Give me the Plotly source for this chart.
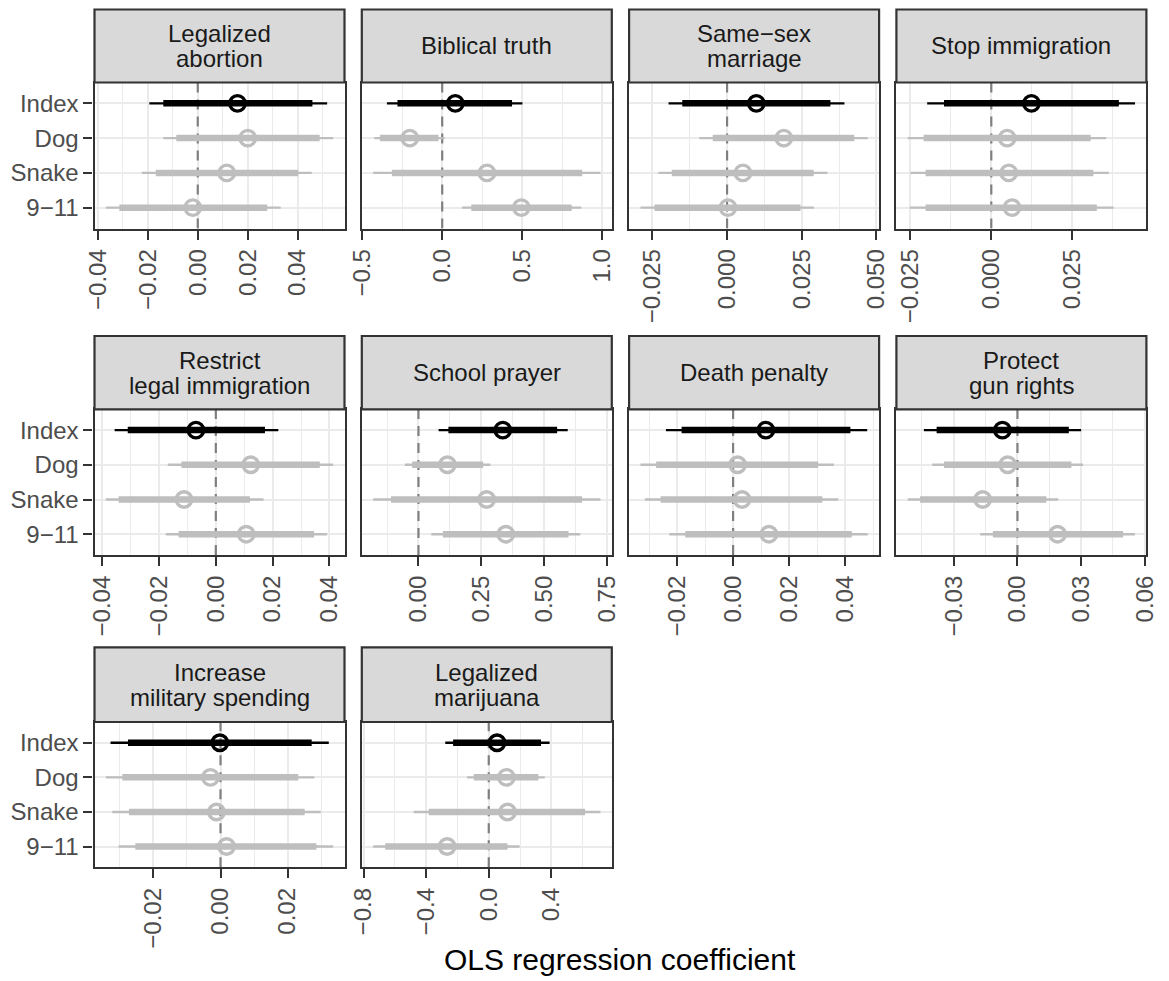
import plotly.graph_objects as go

# ---------------------------------------------------------------- data
issues = [
    "Legalized abortion", "Biblical truth", "Same−sex marriage", "Stop immigration",
    "Restrict legal immigration", "School prayer", "Death penalty", "Protect gun rights",
    "Increase military spending", "Legalized marijuana",
]
# facet strip text, one entry per line
strip_lines = [
    ["Legalized", "abortion"], ["Biblical truth"], ["Same−sex", "marriage"],
    ["Stop immigration"], ["Restrict", "legal immigration"], ["School prayer"],
    ["Death penalty"], ["Protect", "gun rights"], ["Increase", "military spending"],
    ["Legalized", "marijuana"],
]
measures = ["Index", "Dog", "Snake", "9−11"]

# point estimates (Index, Dog, Snake, 9-11) per issue
point_est = [
    [0.0159, 0.0200, 0.0116, -0.0020],
    [0.082, -0.203, 0.280, 0.495],
    [0.0098, 0.0190, 0.0053, 0.0003],
    [0.0124, 0.0049, 0.0054, 0.0064],
    [-0.0070, 0.0123, -0.0112, 0.0107],
    [0.335, 0.115, 0.271, 0.347],
    [0.0117, 0.0016, 0.0032, 0.0128],
    [-0.0071, -0.0046, -0.0164, 0.0189],
    [-0.0002, -0.0030, -0.0012, 0.0018],
    [0.053, 0.113, 0.120, -0.266],
]
# 90% interval bounds (thick segments)
ci90_lo = [
    [-0.0138, -0.0086, -0.0168, -0.0314],
    [-0.280, -0.390, -0.315, 0.182],
    [-0.0150, -0.0048, -0.0185, -0.0243],
    [-0.0146, -0.0209, -0.0203, -0.0203],
    [-0.0310, -0.0121, -0.0342, -0.0131],
    [0.119, -0.025, -0.109, 0.097],
    [-0.0184, -0.0275, -0.0259, -0.0171],
    [-0.0381, -0.0346, -0.0459, -0.0116],
    [-0.0276, -0.0293, -0.0273, -0.0254],
    [-0.228, -0.096, -0.384, -0.662],
]
ci90_hi = [
    [0.0459, 0.0488, 0.0402, 0.0278],
    [0.437, -0.023, 0.876, 0.810],
    [0.0346, 0.0426, 0.0290, 0.0246],
    [0.0394, 0.0307, 0.0315, 0.0326],
    [0.0173, 0.0366, 0.0120, 0.0346],
    [0.551, 0.257, 0.650, 0.596],
    [0.0419, 0.0304, 0.0319, 0.0424],
    [0.0242, 0.0254, 0.0136, 0.0498],
    [0.0272, 0.0232, 0.0251, 0.0286],
    [0.334, 0.317, 0.616, 0.120],
]
# 95% interval bounds (thin segments)
ci95_lo = [
    [-0.0194, -0.0138, -0.0224, -0.0368],
    [-0.346, -0.425, -0.432, 0.124],
    [-0.0196, -0.0093, -0.0230, -0.0290],
    [-0.0198, -0.0258, -0.0250, -0.0252],
    [-0.0356, -0.0169, -0.0387, -0.0176],
    [0.080, -0.054, -0.180, 0.051],
    [-0.0240, -0.0331, -0.0315, -0.0228],
    [-0.0441, -0.0402, -0.0517, -0.0176],
    [-0.0328, -0.0342, -0.0323, -0.0304],
    [-0.278, -0.139, -0.480, -0.739],
]
ci95_hi = [
    [0.0518, 0.0542, 0.0456, 0.0332],
    [0.502, 0.016, 0.990, 0.870],
    [0.0393, 0.0471, 0.0336, 0.0291],
    [0.0444, 0.0355, 0.0363, 0.0378],
    [0.0220, 0.0413, 0.0168, 0.0392],
    [0.593, 0.286, 0.723, 0.643],
    [0.0479, 0.0360, 0.0376, 0.0481],
    [0.0300, 0.0309, 0.0192, 0.0554],
    [0.0323, 0.0280, 0.0299, 0.0336],
    [0.389, 0.358, 0.714, 0.197],
]
# x-axis breaks and their labels per panel
tick_breaks = [
    [-0.04, -0.02, 0.0, 0.02, 0.04],
    [-0.5, 0.0, 0.5, 1.0],
    [-0.025, 0.0, 0.025, 0.05],
    [-0.025, 0.0, 0.025],
    [-0.04, -0.02, 0.0, 0.02, 0.04],
    [0.0, 0.25, 0.5, 0.75],
    [-0.02, 0.0, 0.02, 0.04],
    [-0.03, 0.0, 0.03, 0.06],
    [-0.02, 0.0, 0.02],
    [-0.8, -0.4, 0.0, 0.4],
]
tick_labels = [
    ["−0.04", "−0.02", "0.00", "0.02", "0.04"],
    ["−0.5", "0.0", "0.5", "1.0"],
    ["−0.025", "0.000", "0.025", "0.050"],
    ["−0.025", "0.000", "0.025"],
    ["−0.04", "−0.02", "0.00", "0.02", "0.04"],
    ["0.00", "0.25", "0.50", "0.75"],
    ["−0.02", "0.00", "0.02", "0.04"],
    ["−0.03", "0.00", "0.03", "0.06"],
    ["−0.02", "0.00", "0.02"],
    ["−0.8", "−0.4", "0.0", "0.4"],
]
x_title = "OLS regression coefficient"

# ---------------------------------------------------------------- styling / geometry
W, H = 1169, 981
FONT = "Liberation Sans, Arial, Helvetica, sans-serif"
BLACK, GREY = "#000000", "#BEBEBE"
BORDER, GRID = "#333333", "#EBEBEB"
col_left = [94.5, 361.8, 629.1, 896.4]
panel_w = 250.0
strip_top = [9.5, 336.0, 647.3]
panel_top = [82.5, 409.3, 722.0]
panel_bottom = [228.5, 555.0, 867.3]

# discrete rows: first measure on top
n_rows = len(measures)
row_pos = [n_rows - k for k in range(n_rows)]
y_range = [0.4, n_rows + 0.6]


def px(x):
    return x / W


def py(y):
    return 1 - y / H


def minor_breaks(breaks, lo, hi):
    step = breaks[1] - breaks[0]
    mids = [breaks[0] - step / 2] + [b + step / 2 for b in breaks]
    return [m for m in mids if lo <= m <= hi]


fig = go.Figure()
shapes, annotations = [], []

for i, issue in enumerate(issues):
    r, c = divmod(i, 4)
    suffix = "" if i == 0 else str(i + 1)
    xref, yref = "x" + suffix, "y" + suffix

    lo = min(ci95_lo[i])
    hi = max(ci95_hi[i])
    pad = 0.05 * (hi - lo)
    x_range = [lo - pad, hi + pad]

    # dashed reference line at zero, drawn before the intervals
    fig.add_trace(go.Scatter(x=[0, 0], y=y_range, mode="lines", xaxis=xref, yaxis=yref,
                             line=dict(color="#7F7F7F", width=2.2, dash="10px,7px"),
                             hoverinfo="skip", showlegend=False))

    for rows, color in (([1, 2, 3], GREY), ([0], BLACK)):
        thin_x, thin_y, thick_x, thick_y = [], [], [], []
        for k in rows:
            thin_x += [ci95_lo[i][k], ci95_hi[i][k], None]
            thin_y += [row_pos[k], row_pos[k], None]
            thick_x += [ci90_lo[i][k], ci90_hi[i][k], None]
            thick_y += [row_pos[k], row_pos[k], None]
        fig.add_trace(go.Scatter(x=thin_x, y=thin_y, mode="lines", xaxis=xref, yaxis=yref,
                                 line=dict(color=color, width=2.4), hoverinfo="skip", showlegend=False))
        fig.add_trace(go.Scatter(x=thick_x, y=thick_y, mode="lines", xaxis=xref, yaxis=yref,
                                 line=dict(color=color, width=6.5), hoverinfo="skip", showlegend=False))
        fig.add_trace(go.Scatter(x=[point_est[i][k] for k in rows], y=[row_pos[k] for k in rows],
                                 mode="markers", xaxis=xref, yaxis=yref, showlegend=False,
                                 marker=dict(symbol="circle-open", size=15.5, color=color,
                                             line=dict(width=3.4, color=color))))

    x0 = col_left[c]
    fig.layout["xaxis" + suffix] = dict(
        domain=[px(x0), px(x0 + panel_w)], anchor=yref, range=x_range,
        tickmode="array", tickvals=tick_breaks[i], ticktext=tick_labels[i], tickangle=-90,
        ticks="outside", ticklen=9, tickwidth=2.2, tickcolor=BORDER,
        tickfont=dict(family=FONT, size=24, color="#4D4D4D"),
        showgrid=True, gridcolor=GRID, gridwidth=2.4,
        minor=dict(tickmode="array", tickvals=minor_breaks(tick_breaks[i], *x_range),
                   showgrid=True, gridcolor=GRID, gridwidth=1.2, ticks=""),
        showline=True, mirror=True, linecolor=BORDER, linewidth=2.2, zeroline=False,
        automargin=False, fixedrange=True,
    )
    fig.layout["yaxis" + suffix] = dict(
        domain=[py(panel_bottom[r]), py(panel_top[r])], anchor=xref, range=y_range,
        tickmode="array", tickvals=row_pos, ticktext=measures,
        showgrid=True, gridcolor=GRID, gridwidth=2.4,
        ticks="outside" if c == 0 else "", ticklen=9, tickwidth=2.2, tickcolor=BORDER,
        showticklabels=(c == 0), tickfont=dict(family=FONT, size=24, color="#4D4D4D"),
        showline=True, mirror=True, linecolor=BORDER, linewidth=2.2, zeroline=False,
        automargin=False, fixedrange=True,
    )

    # facet strip
    shapes.append(dict(type="rect", xref="paper", yref="paper",
                       x0=px(x0), x1=px(x0 + panel_w), y0=py(panel_top[r]), y1=py(strip_top[r]),
                       fillcolor="#D9D9D9", line=dict(color=BORDER, width=2.2), layer="above"))
    mid = (strip_top[r] + panel_top[r]) / 2
    lines = strip_lines[i]
    offsets = [0.0] if len(lines) == 1 else [-12.5, 12.5]
    for text, off in zip(lines, offsets):
        annotations.append(dict(text=text, xref="paper", yref="paper",
                                x=px(x0 + panel_w / 2), y=py(mid + off),
                                xanchor="center", yanchor="middle", showarrow=False,
                                font=dict(family=FONT, size=24, color="#1A1A1A")))

annotations.append(dict(text=x_title, xref="paper", yref="paper",
                        x=px((col_left[0] + col_left[3] + panel_w) / 2), y=py(959),
                        xanchor="center", yanchor="middle", showarrow=False,
                        font=dict(family=FONT, size=30, color="#000000")))

fig.update_layout(
    template="none", width=W, height=H, autosize=False,
    margin=dict(l=0, r=0, t=0, b=0), paper_bgcolor="white", plot_bgcolor="white",
    shapes=shapes, annotations=annotations, showlegend=False,
    font=dict(family=FONT),
)

fig.write_html("out.html")
